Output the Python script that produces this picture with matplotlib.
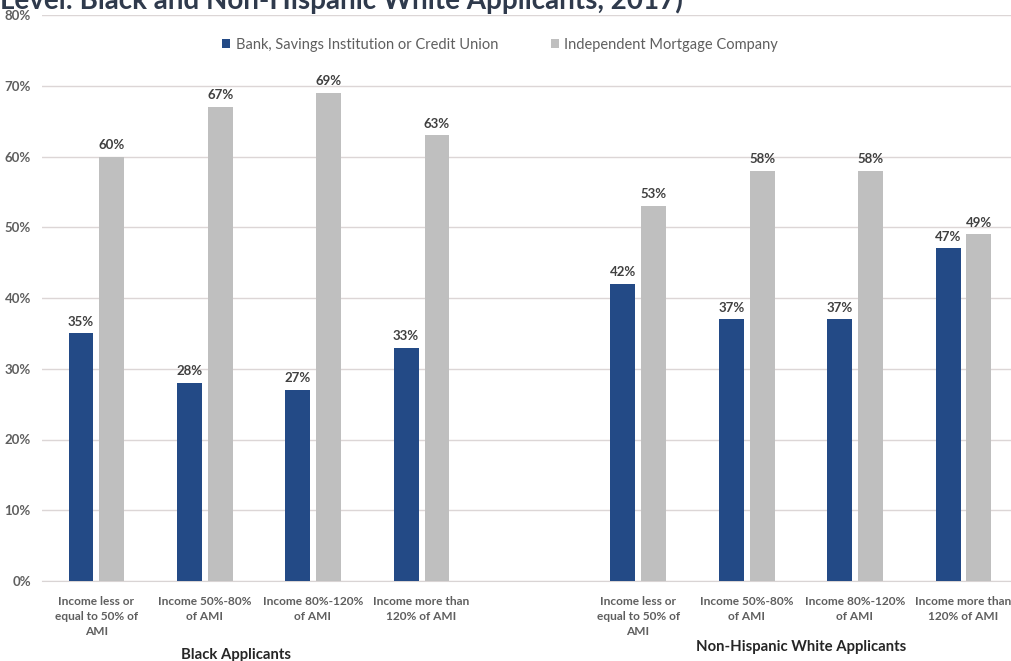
import numpy as np
import matplotlib.pyplot as plt
import matplotlib.transforms as mtransforms

plt.rcParams['font.family'] = ['Lato', 'DejaVu Sans']

#%% data
income_labels = ['Income less or\nequal to 50% of\nAMI', 'Income 50%-80%\nof AMI',
                 'Income 80%-120%\nof AMI', 'Income more than\n120% of AMI']
groups = ['Black Applicants', 'Non-Hispanic White Applicants']
bank = [35, 28, 27, 33, 42, 37, 37, 47]
indep = [60, 67, 69, 63, 53, 58, 58, 49]
series_names = ['Bank, Savings Institution or Credit Union', 'Independent Mortgage Company']
yticks = [0, 10, 20, 30, 40, 50, 60, 70, 80]
title = 'Level: Black and Non-Hispanic White Applicants, 2017)'

blue = '#234A86'
grey = '#BFBFBF'
txt = '#5F5F5F'

W, H = 1011, 661
fig = plt.figure(figsize=(W/100, H/100), dpi=100)
ax = fig.add_axes([42/W, (H-581)/H, (W-42)/W, 566/H])

x = np.array([0, 1, 2, 3, 5, 6, 7, 8])
w = 0.23
b1 = ax.bar(x-0.14, bank, w, color=blue, label=series_names[0], zorder=3)
b2 = ax.bar(x+0.145, indep, w, color=grey, label=series_names[1], zorder=3)

for bars in (b1, b2):
    for r in bars:
        ax.annotate('%d%%' % round(r.get_height()), (r.get_x()+r.get_width()/2, r.get_height()),
                    xytext=(0, 4), textcoords='offset points', ha='center', va='bottom',
                    fontsize=9.5, fontweight='bold', color='#404040')

ax.set_xlim(-0.5, (W-96)/108.4)
ax.set_ylim(0, 80)
ax.set_yticks(yticks)
ax.set_yticklabels(['%d%%' % t for t in yticks], fontsize=9.5, color=txt, fontweight='bold')
ax.tick_params(axis='y', length=0, pad=8)
ax.set_xticks(x)
ax.set_xticklabels(income_labels*2, fontsize=8.6, color=txt, fontweight='bold', linespacing=1.45)
ax.tick_params(axis='x', length=0, pad=11)
ax.grid(axis='y', color='#DCD6D6', lw=1, zorder=0)
for s in ['top', 'right', 'left']:
    ax.spines[s].set_visible(False)
ax.spines['bottom'].set_color('#D9D4D4')
ax.spines['bottom'].set_zorder(2)

# group labels under the categories
trans = mtransforms.blended_transform_factory(ax.transData, fig.transFigure)
ax.text(1.29, 1-655/H, groups[0], transform=trans, ha='center', va='center',
        fontsize=10.7, fontweight='bold', color='#262626')
ax.text(6.5, 1-647/H, groups[1], transform=trans, ha='center', va='center',
        fontsize=10.7, fontweight='bold', color='#262626')

fig.legend(loc='center', bbox_to_anchor=(500/W, 1-45/H), ncol=2, frameon=False,
           fontsize=10.5, handlelength=0.55, handleheight=0.55, handletextpad=0.4,
           columnspacing=3.6, labelcolor=txt)

# title, partly cut off by the top edge
fig.text(0, 1-9/H, title, ha='left', va='baseline', fontsize=20, fontweight='bold', color='#2F3A4C')

fig.savefig('out.png', dpi=100)
